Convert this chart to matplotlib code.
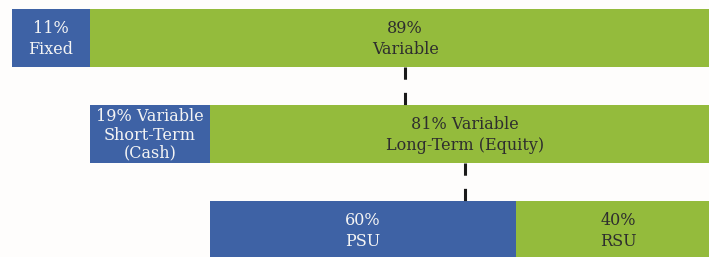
import matplotlib.pyplot as plt
plt.switch_backend('Agg')

# each row splits the "variable" part of the row above it
row_labels = [
    ["11%\nFixed", "89%\nVariable"],
    ["19% Variable\nShort-Term\n(Cash)", "81% Variable\nLong-Term (Equity)"],
    ["60%\nPSU", "40%\nRSU"],
]
row_shares = [
    [11, 89],
    [19, 81],
    [60, 40],
]
row_tops = [9, 105, 201]  # pixel rows of the bar tops
bar_height = 58

blue = '#3E62A5'
green = '#94BB3C'


def main():
    fig = plt.figure(figsize=(7.09, 2.57), dpi=100)
    ax = fig.add_axes([0, 0, 1, 1])
    ax.set_facecolor('#FEFDFC')
    fig.patch.set_facecolor('#FEFDFC')

    start, width = 0.0, 100.0
    prev_center = None
    for i, (labels, shares) in enumerate(zip(row_labels, row_shares)):
        top = row_tops[i]
        left = start
        segs = []
        for j, (lab, sh) in enumerate(zip(labels, shares)):
            w = width * sh / 100.0
            col = blue if j == 0 else green
            ax.barh(top + bar_height / 2, w, left=left, height=bar_height,
                    color=col, edgecolor='none')
            tc = '#F4F4F4' if j == 0 else '#2E2E2E'
            ls = 1.1 if lab.count('\n') == 2 else 1.3
            ax.text(left + w / 2, top + bar_height / 2 + 1, lab, ha='center', va='center',
                    color=tc, fontsize=11.5, family='DejaVu Serif',
                    linespacing=ls)
            segs.append((left, w))
            left += w
        if prev_center is not None:
            ax.plot([prev_center, prev_center], [row_tops[i - 1] + bar_height, top],
                    color='#1A1A1A', lw=2.2, dashes=(4.0, 4.3),
                    dash_capstyle='butt')
        # next row covers the second (variable) segment
        start, width = segs[1]
        prev_center = start + width / 2

    ax.set_xlim(-1.7, 98.4)
    ax.set_ylim(257, 0)
    ax.axis('off')
    plt.savefig('out.png', dpi=100, facecolor=fig.get_facecolor())
    plt.close()


if __name__ == "__main__":
    main()
